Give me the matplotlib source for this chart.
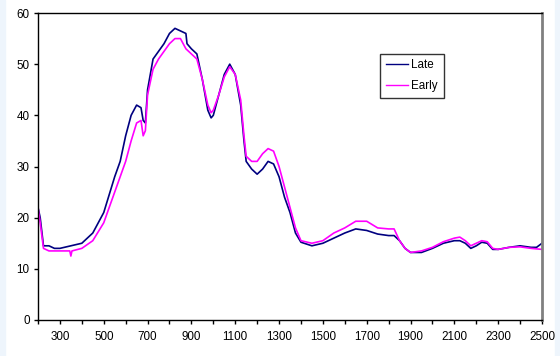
import matplotlib.pyplot as plt
from matplotlib.patches import Rectangle

plt.rcParams['font.family'] = ['Liberation Sans', 'DejaVu Sans']

wl_late = [200, 210, 225, 250, 275, 300, 350, 400, 450, 500, 550, 575, 600, 625, 650, 670, 680, 690,
           700, 725, 750, 775, 800, 825, 850, 875, 880, 900, 925, 950, 975, 990, 1000, 1025, 1050,
           1075, 1100, 1125, 1140, 1150, 1175, 1200, 1225, 1250, 1275, 1300, 1325, 1350, 1375, 1400,
           1450, 1500, 1550, 1600, 1650, 1700, 1750, 1800, 1825, 1850, 1875, 1900, 1950, 2000, 2050,
           2100, 2125, 2150, 2175, 2200, 2225, 2250, 2275, 2300, 2350, 2400, 2450, 2475, 2500]
late = [22, 20, 14.5, 14.5, 14, 14, 14.5, 15, 17, 21, 28, 31, 36, 40, 42, 41.5, 39, 38.5,
        45, 51, 52.5, 54, 56, 57, 56.5, 56, 54, 53, 52, 47, 41, 39.5, 40, 44, 48,
        50, 48, 42, 35, 31, 29.5, 28.5, 29.5, 31, 30.5, 28, 24, 21, 17, 15.2,
        14.5, 15, 16, 17, 17.8, 17.5, 16.8, 16.5, 16.5, 15.5, 14, 13.2, 13.2, 14, 15,
        15.5, 15.5, 15, 14, 14.5, 15.2, 15, 13.8, 13.8, 14.2, 14.5, 14.2, 14.2, 15]

wl_early = [200, 210, 225, 250, 300, 345, 350, 355, 400, 450, 500, 550, 600, 625, 650, 670, 680, 690,
            700, 725, 750, 775, 800, 825, 850, 875, 900, 925, 950, 975, 990, 1000, 1025, 1050,
            1075, 1100, 1125, 1140, 1150, 1175, 1200, 1225, 1250, 1275, 1300, 1325, 1350, 1375, 1400,
            1450, 1500, 1550, 1600, 1650, 1700, 1750, 1800, 1825, 1850, 1875, 1900, 1950, 2000, 2050,
            2100, 2125, 2150, 2175, 2200, 2225, 2250, 2275, 2300, 2350, 2400, 2450, 2500]
early = [22, 19, 14, 13.5, 13.5, 13.5, 12.5, 13.5, 14, 15.5, 19, 25, 31, 35, 38.5, 39, 36, 37,
         44, 49, 51, 52.5, 54, 55, 55, 53, 52, 51, 47, 42, 40.5, 41, 44, 47.5,
         49.5, 48, 43, 36, 32, 31, 31, 32.5, 33.5, 33, 30, 26, 22, 18, 15.5,
         15, 15.5, 17, 18, 19.3, 19.3, 18, 17.8, 17.8, 15.5, 14, 13.2, 13.5, 14.2, 15.3,
         16, 16.2, 15.5, 14.5, 15, 15.5, 15.3, 14, 13.8, 14.2, 14.3, 14, 13.8]

fig = plt.figure(figsize=(5.6, 3.56), dpi=100, facecolor='white')
# light blue strips at the edges
fig.patches.append(Rectangle((0, 0), 5 / 560, 1, transform=fig.transFigure, color='#eef5fc', zorder=-1))
fig.patches.append(Rectangle((555 / 560, 0), 5 / 560, 1, transform=fig.transFigure, color='#eef5fc', zorder=-1))

ax = fig.add_axes([38 / 560, 36 / 356, 504 / 560, 307 / 356])
ax.plot(wl_late, late, color='#000080', lw=1.2, label='Late')
ax.plot(wl_early, early, color='#ff00ff', lw=1.2, label='Early')

ax.set_xlim(200, 2500)
ax.set_ylim(0, 60)
ax.set_xticks(range(200, 2501, 100))
ax.set_xticklabels([str(v) if (v // 100) % 2 == 1 else '' for v in range(200, 2501, 100)])
ax.set_yticks(range(0, 61, 10))
ax.tick_params(axis='both', direction='out', length=3, width=1, labelsize=8.4, pad=3)
ax.tick_params(axis='x', pad=5)

for s in ['top', 'left', 'bottom']:
    ax.spines[s].set_color('black')
    ax.spines[s].set_linewidth(1)
ax.spines['right'].set_color('#808080')
ax.spines['right'].set_linewidth(2)

leg = ax.legend(loc='lower left', bbox_to_anchor=(0.679, 0.723), fontsize=8.4, frameon=True,
                fancybox=False, edgecolor='black', handlelength=1.9, borderpad=0.5,
                labelspacing=0.75, handletextpad=0.25, borderaxespad=0)
leg.get_frame().set_linewidth(1)
for line in leg.get_lines():
    line.set_linewidth(1)

fig.savefig('out.png', dpi=100, facecolor=fig.get_facecolor())
